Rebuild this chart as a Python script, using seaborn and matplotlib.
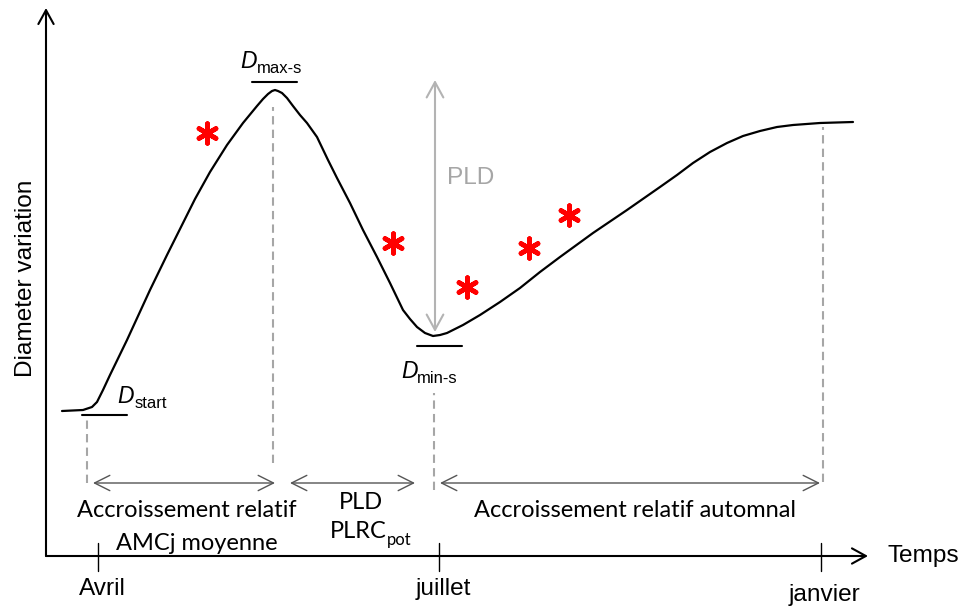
import matplotlib
matplotlib.use("Agg")
import matplotlib.pyplot as plt
import pandas as pd
import seaborn as sns

# Schematic seasonal stem-diameter course (time along x, diameter along y)
curve_time = [16, 37, 46, 51, 57, 64, 81, 104, 121, 137, 149, 164, 181, 197, 211,
              217, 222, 226, 229, 232, 236, 241, 247, 254, 261, 271, 282, 291, 304,
              317, 331, 344, 357, 364, 371, 379, 387, 394, 401, 409, 417, 434, 454,
              474, 494, 514, 547, 581, 614, 631, 647, 664, 681, 697, 714, 731, 747,
              774, 807]
curve_diam = [145, 146, 149, 154, 166, 181, 216, 266, 301, 333, 357, 384, 411, 433, 450,
              457, 462, 465, 466, 465, 463, 458, 450, 441, 433, 419, 396, 378, 353,
              326, 299, 273, 246, 237, 229, 223, 220, 221, 223, 227, 231, 241, 254,
              268, 284, 299, 323, 346, 369, 381, 393, 404, 413, 420, 425, 429, 431,
              433, 434]

# Significant-difference markers
star_time = [161, 347, 421, 483, 523]
star_diam = [423, 313, 269, 308, 341]

# Month ticks on the time axis
month_labels = ["Avril", "juillet", "janvier"]
month_pos = [52, 393, 775]

# Phase boundaries: (time, lower, upper) of the dashed guides
guide_time = [41, 227, 388, 777]
guide_low = [73, 93, 66, 74]
guide_high = [139, 449, 163, 429]

# Phase spans (double arrows)
span_start = [47, 244, 394]
span_end = [229, 369, 774]

sns.set_theme(style="white")
plt.rcParams["font.family"] = ["Liberation Sans", "DejaVu Sans"]

fig = plt.figure(figsize=(9.66, 6.06), dpi=100)
ax = fig.add_axes([0, 0, 1, 1])
ax.set_xlim(-46, 920)
ax.set_ylim(-50, 556)
ax.axis("off")

ARIAL = "Liberation Sans"
CAL = "Lato"

# Axes drawn as arrows
axis_arrow = dict(arrowstyle="->,head_length=1.0,head_width=0.55", lw=1.5,
                  color="black", mutation_scale=10, shrinkA=0, shrinkB=0)
ax.annotate("", xy=(0, 548), xytext=(0, 0), arrowprops=axis_arrow)
ax.annotate("", xy=(822, 0), xytext=(0, 0), arrowprops=axis_arrow)

# Month ticks
for pos in month_pos:
    ax.plot([pos, pos], [13, -15], color="black", lw=1.0)
month_baseline = [-39, -39, -45]
for lab, pos, base in zip(month_labels, month_pos, month_baseline):
    ax.text(pos + 4, base, lab, ha="center", va="baseline", fontsize=17.6,
            family=ARIAL, color="black")

ax.text(842, -6, "Temps", ha="left", va="baseline", fontsize=17.6,
        family=ARIAL, color="black")
ax.text(-14, 278, "Diameter variation", ha="center", va="baseline",
        rotation=90, rotation_mode="anchor", fontsize=17.6, family=ARIAL,
        color="black")

# Dashed phase guides
for t, lo, hi in zip(guide_time, guide_low, guide_high):
    ax.plot([t, t], [lo, hi], color="#a6a6a6", lw=1.5, linestyle=(0, (4, 2.5)))

# Phase span arrows
span_arrow = dict(arrowstyle="<->,head_length=1.1,head_width=0.55", lw=1.0,
                  color="#555555", mutation_scale=10, shrinkA=0, shrinkB=0)
for a, b in zip(span_start, span_end):
    ax.annotate("", xy=(b, 73), xytext=(a, 73), arrowprops=span_arrow)

# Diameter course
df_curve = pd.DataFrame({"time": curve_time, "diam": curve_diam})
sns.lineplot(data=df_curve, x="time", y="diam", ax=ax, color="black", lw=1.6,
             sort=False, estimator=None, solid_joinstyle="round",
             solid_capstyle="round")

# PLD amplitude arrow
pld_arrow = dict(arrowstyle="<->,head_length=1.1,head_width=0.6", lw=1.5,
                 color="#b3b3b3", mutation_scale=10, shrinkA=0, shrinkB=0)
ax.annotate("", xy=(389, 476), xytext=(389, 224), arrowprops=pld_arrow)
ax.text(401, 372, "PLD", ha="left", va="baseline", fontsize=17.6,
        family=ARIAL, color="#a6a6a6")

# Reference levels
ax.plot([36, 81], [141, 141], color="black", lw=1.5)
ax.plot([206, 251], [474, 474], color="black", lw=1.5)
ax.plot([371, 416], [210, 210], color="black", lw=1.5)


def dlabel(t, d, sub, sub_dt):
    ax.text(t, d, "D", ha="left", va="baseline", fontsize=16.5, style="italic",
            family=ARIAL, color="black")
    ax.text(t + sub_dt, d - 5, sub, ha="left", va="baseline", fontsize=12,
            family=ARIAL, color="black")


dlabel(194, 488, "max-s", 17)
dlabel(355, 178, "min-s", 16)
dlabel(71, 153, "start", 18)

# Markers
df_star = pd.DataFrame({"time": star_time, "diam": star_diam})
sns.scatterplot(data=df_star, x="time", y="diam", ax=ax, marker=(6, 2, 0),
                s=200, color="#ff0000", edgecolor="#ff0000", linewidth=3.4,
                legend=False)

# Phase captions
ax.text(141, 39, "Accroissement relatif", ha="center", va="baseline",
        fontsize=17, family=CAL, color="black")
ax.text(151, 6, "AMCj moyenne", ha="center", va="baseline",
        fontsize=17, family=CAL, color="black")
ax.text(315, 47, "PLD", ha="center", va="baseline",
        fontsize=17, family=CAL, color="black")
ax.text(284, 18, "PLRC", ha="left", va="baseline",
        fontsize=17, family=CAL, color="black")
ax.text(341, 11, "pot", ha="left", va="baseline",
        fontsize=12, family=CAL, color="black")
ax.text(589, 39, "Accroissement relatif automnal", ha="center", va="baseline",
        fontsize=17, family=CAL, color="black")

ax.set_xlabel("")
ax.set_ylabel("")
fig.savefig("out.png", dpi=100, facecolor="white")
